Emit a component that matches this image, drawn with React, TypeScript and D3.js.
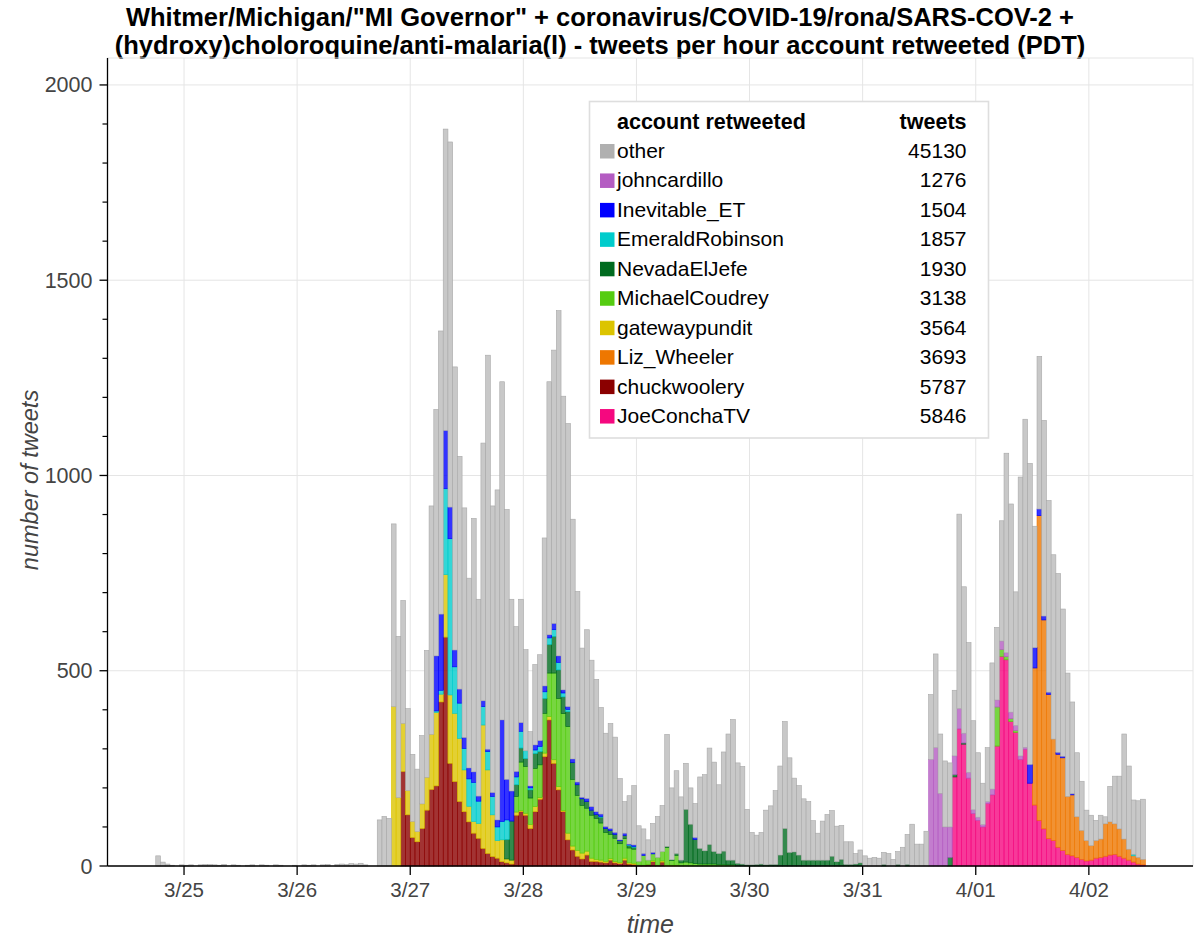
import React, { useMemo } from 'react';
import * as d3 from 'd3';

// ---------------- data (hours are counted from 3/25 00:00 PDT) ----------------
const FIRST_HOUR = -6; // first bar: 3/24 18:00

const totalTweetsPerHour = [
  26, 10, 5, 2, 0, 3,
  2, 3, 0, 3, 4, 4, 3, 2, 4, 0, 3, 2,
  0, 2, 3, 0, 3, 2, 0, 3, 2, 0, 0, 2,
  0, 3, 2, 3, 0, 3, 4, 0, 4, 5, 4, 6,
  5, 7, 3, 0, 0, 118, 127, 122,
  876, 588, 680, 403, 286, 248, 334, 552, 922, 1169, 1370, 1887,
  1854, 1278, 1049, 917, 737, 890, 683, 1083, 1308, 922, 963, 1240,
  913, 683, 613, 683, 554, 344, 516, 541, 840, 1240, 1321, 1422,
  1203, 1133, 888, 703, 558, 605, 527, 478, 406, 340, 365, 330,
  224, 165, 180, 206, 103, 95, 67, 109, 127, 155, 337, 200,
  244, 177, 263, 200, 160, 228, 234, 302, 266, 208, 292, 338,
  375, 264, 255, 145, 86, 79, 86, 143, 154, 193, 256, 370,
  277, 225, 206, 172, 165, 116, 84, 115, 132, 142, 102, 104,
  62, 62, 32, 41, 26, 20, 22, 20, 35, 32, 17, 37,
  48, 81, 107, 56, 56, 89, 439, 543, 338, 269, 264, 450,
  901, 715, 572, 372, 290, 212, 303, 520, 611, 884, 1057, 927,
  702, 996, 1144, 1031, 870, 1305, 1141, 936, 797, 749, 658, 494,
  420, 290, 217, 143, 130, 117, 130, 126, 204, 230, 230, 338,
  256, 169, 167, 171,
];

const joeConchaTVStart = 163;
const joeConchaTV = [
  228, 351, 312, 225, 134, 117, 100, 160, 182, 307, 537, 528, 370, 342, 273,
  299, 212, 156, 117, 95, 70, 65, 48, 40, 30, 26, 22, 17, 13, 15,
  20, 22, 25, 28, 30, 25, 20, 15, 10, 5, 3,
];

const chuckwooleryStart = 46;
const chuckwoolery = [
  242, 131, 73, 62, 96, 143, 196, 205, 420, 586, 263, 216, 165, 139, 113,
  84, 71, 45, 32, 24, 20, 11, 8, 5, 130, 139, 130, 96, 139, 171,
  280, 374, 263, 195, 139, 67, 41, 25, 18, 28, 12, 12, 10, 8, 15,
  8, 6, 15, 5, 4, 2, 2, 3, 11, 2, 10,
];

const lizWheelerStart = 180;
const lizWheeler = [
  351, 780, 535, 369, 260, 238, 237, 148, 156, 104, 74, 52, 37, 45, 47,
  83, 85, 78, 70, 49, 28, 16, 17, 14,
];

const gatewaypunditStart = 44;
const gatewaypundit = [
  408, 175, 123, 62, 41, 26, 63, 84, 141, 188, 20, 160, 175, 175, 162,
  107, 40, 30, 38, 316, 214, 107, 45, 56, 10, 10, 8, 3, 5, 10,
  13, 4, 9, 9, 9, 8, 3, 17, 10, 15, 15, 10, 8, 5, 5,
  4, 4, 3, 3, 5, 3, 3, 0, 0, 0, 2, 0, 3, 2, 2, 2,
];

const michaelCoudreyStart = 70;
const michaelCoudrey = [
  40, 124, 120, 68, 98, 84, 102, 111, 222, 226, 248, 273, 171, 141, 122,
  110, 110, 105, 95, 74, 62, 60, 48, 50, 38, 36, 10, 25, 12, 18,
  20, 24, 45, 12, 25, 8, 10, 8, 6, 5, 5, 5, 5, 4, 4, 3, 3,
];
const michaelCoudreyAprilStart = 172;
const michaelCoudreyApril = [100, 17, 8, 7, 5];

const nevadaElJefeStart = 68;
const nevadaElJefe = [
  50, 100, 30, 36, 20, 21, 38, 34, 38, 73, 94, 73, 43, 38, 43,
  27, 17, 17, 13, 10, 15, 10, 10, 10, 8, 8, 6, 5, 0, 0,
  0, 0, 0, 0, 3, 2, 5, 7, 135, 99, 62, 40, 34, 50, 32,
  28, 34, 12, 12, 7, 5, 3, 3, 4, 5, 3, 4, 4, 28, 96,
  35, 36, 28, 15, 15, 15, 15, 15, 15, 25, 11, 17, 4, 4, 5,
  8, 0, 0, 0, 0, 4, 0, 0, 4, 0, 4, 0, 0, 0, 0,
  0, 0, 0, 0, 22, 6, 0, 3,
];

const emeraldRobinsonStart = 53;
const emeraldRobinson = [
  4, 10, 220, 400, 119, 90, 55, 70, 100, 57, 47, 47, 47, 35, 47,
  50, 0, 20, 43, 20, 5, 9, 13, 17, 17, 17, 19, 10, 6, 0,
  0, 0, 0, 0, 0, 2, 0, 0, 0, 0, 0, 2, 2,
];
const emeraldRobinsonAprilStart = 201;
const emeraldRobinsonApril = [4];

const inevitableEtStart = 53;
const inevitableEt = [
  141, 195, 149, 81, 43, 36, 28, 28, 27, 13, 15, 6, 10, 18, 260,
  104, 77, 14, 22, 0, 5, 13, 15, 15, 8, 16, 17, 8, 7, 9,
  7, 4, 8, 9, 7, 6, 5, 5, 5, 2, 6, 2, 4, 0, 5,
  0, 4, 0, 0, 0, 0, 0, 0, 0, 0, 5,
];
const inevitableEtAprilStart = 179;
const inevitableEtApril = [48, 52, 17, 10, 6, 0, 5, 4, 0, 3];

const johncardilloStart = 158;
const johncardillo = [
  273, 303, 186, 100, 78, 48, 52, 25, 15, 10, 8, 6, 5, 15, 18,
  22, 10, 17, 13, 9, 5,
];

// legend (top to bottom)
const legendAccounts = [
  'other', 'johncardillo', 'Inevitable_ET', 'EmeraldRobinson', 'NevadaElJefe',
  'MichaelCoudrey', 'gatewaypundit', 'Liz_Wheeler', 'chuckwoolery', 'JoeConchaTV',
];
const legendTweetCounts = [45130, 1276, 1504, 1857, 1930, 3138, 3564, 3693, 5787, 5846];
const accountColors = [
  '#b0b0b0', '#b45cc2', '#0000ff', '#00cccc', '#006b1f',
  '#55cc11', '#dcc400', '#ee7700', '#8b0000', '#f5087f',
];

const dayTickLabels = ['3/25', '3/26', '3/27', '3/28', '3/29', '3/30', '3/31', '4/01', '4/02'];
const yTickValues = [0, 500, 1000, 1500, 2000];

const titleLines = [
  'Whitmer/Michigan/"MI Governor" + coronavirus/COVID-19/rona/SARS-COV-2 +',
  '(hydroxy)choloroquine/anti-malaria(l) - tweets per hour account retweeted (PDT)',
];

// ---------------- build table ----------------
const segments: Record<string, [number, number[]][]> = {
  JoeConchaTV: [[joeConchaTVStart, joeConchaTV]],
  chuckwoolery: [[chuckwooleryStart, chuckwoolery]],
  Liz_Wheeler: [[lizWheelerStart, lizWheeler]],
  gatewaypundit: [[gatewaypunditStart, gatewaypundit]],
  MichaelCoudrey: [[michaelCoudreyStart, michaelCoudrey], [michaelCoudreyAprilStart, michaelCoudreyApril]],
  NevadaElJefe: [[nevadaElJefeStart, nevadaElJefe]],
  EmeraldRobinson: [[emeraldRobinsonStart, emeraldRobinson], [emeraldRobinsonAprilStart, emeraldRobinsonApril]],
  Inevitable_ET: [[inevitableEtStart, inevitableEt], [inevitableEtAprilStart, inevitableEtApril]],
  johncardillo: [[johncardilloStart, johncardillo]],
};

const stackKeys = legendAccounts.slice().reverse(); // bottom -> top

function valueAt(name: string, hour: number): number {
  let v = 0;
  for (const [start, arr] of segments[name] || []) {
    const i = hour - start;
    if (i >= 0 && i < arr.length) v += arr[i];
  }
  return v;
}

type Row = { hour: number; [k: string]: number };

function buildRows(): Row[] {
  return totalTweetsPerHour.map((total, i) => {
    const hour = FIRST_HOUR + i;
    const row: Row = { hour };
    let sum = 0;
    for (const k of stackKeys) {
      if (k === 'other') continue;
      row[k] = valueAt(k, hour);
      sum += row[k];
    }
    row.other = Math.max(0, total - sum);
    return row;
  });
}

// ---------------- layout ----------------
const W = 1200;
const H = 946;
const PLOT_L = 107.5;
const PLOT_R = 1193;
const PLOT_T = 58;
const PLOT_B = 866;
const FONT = '"Liberation Sans", Arial, Helvetica, sans-serif';

export default function App() {
  const rows = useMemo(buildRows, []);
  const x = d3.scaleLinear().domain([-16.24, 214.1]).range([PLOT_L, PLOT_R]);
  const y = d3.scaleLinear().domain([0, 2069]).range([PLOT_B, PLOT_T]);
  const stacked = d3.stack<Row>().keys(stackKeys)(rows);
  const colorOf = (k: string) => accountColors[legendAccounts.indexOf(k)];
  const dayTicks = dayTickLabels.map((_, i) => i * 24);
  const minorY = d3.range(100, 2001, 100).filter((v) => v % 500 !== 0);

  const legendX = 589.5;
  const legendY = 101.5;
  const rowBase = 158;
  const rowStep = 29.45;

  return (
    <svg width={W} height={H} style={{ position: 'absolute', left: 0, top: 0, display: 'block', background: '#fff' }} fontFamily={FONT}>
      {/* title */}
      {titleLines.map((t, i) => (
        <text key={i} x={600} y={26 + i * 28} textAnchor="middle" fontSize={25.5} fontWeight="bold" fill="#000">{t}</text>
      ))}

      {/* frame + grid */}
      <rect x={PLOT_L} y={PLOT_T} width={PLOT_R - PLOT_L} height={PLOT_B - PLOT_T} fill="none" stroke="#e5e5e5" strokeWidth={1} />
      {yTickValues.filter((v) => v > 0).map((v) => (
        <line key={'gy' + v} x1={PLOT_L} x2={PLOT_R} y1={y(v)} y2={y(v)} stroke="#e5e5e5" strokeWidth={1} />
      ))}
      {dayTicks.map((h) => (
        <line key={'gx' + h} x1={x(h)} x2={x(h)} y1={PLOT_T} y2={PLOT_B} stroke="#e5e5e5" strokeWidth={1} />
      ))}

      {/* bars */}
      {stacked.map((layer) => {
        const k = layer.key;
        const c = colorOf(k);
        const isOther = k === 'other';
        return (
          <g key={k}>
            {layer.map((d, i) => {
              const h0 = d[0];
              const h1 = d[1];
              if (h1 - h0 <= 0) return null;
              const hr = rows[i].hour;
              const x0 = x(hr);
              const x1 = x(hr + 1);
              return (
                <rect
                  key={i}
                  x={x0}
                  y={y(h1)}
                  width={x1 - x0}
                  height={y(h0) - y(h1)}
                  fill={isOther ? '#c8c8c8' : c}
                  fillOpacity={isOther ? 1 : 0.8}
                  stroke={isOther ? '#a8a8a8' : c}
                  strokeWidth={0.6}
                />
              );
            })}
          </g>
        );
      })}

      {/* y axis */}
      <line x1={PLOT_L} x2={PLOT_L} y1={PLOT_T} y2={PLOT_B} stroke="#000" strokeWidth={1.3} />
      {yTickValues.map((v) => (
        <g key={'yt' + v}>
          <line x1={PLOT_L - 8} x2={PLOT_L} y1={y(v)} y2={y(v)} stroke="#000" strokeWidth={1.3} />
          <text x={PLOT_L - 15} y={y(v)} dy="0.35em" textAnchor="end" fontSize={21.5} fill="#444">{v}</text>
        </g>
      ))}
      {minorY.map((v) => (
        <line key={'ym' + v} x1={PLOT_L - 5} x2={PLOT_L} y1={y(v)} y2={y(v)} stroke="#000" strokeWidth={1.2} />
      ))}
      <text transform={`translate(38,480) rotate(-90)`} textAnchor="middle" fontSize={23.5} fontStyle="italic" fill="#444">number of tweets</text>

      {/* x axis */}
      <line x1={PLOT_L} x2={PLOT_R} y1={PLOT_B} y2={PLOT_B} stroke="#000" strokeWidth={1.3} />
      {dayTicks.map((h, i) => (
        <g key={'xt' + h}>
          <line x1={x(h)} x2={x(h)} y1={PLOT_B} y2={PLOT_B + 9} stroke="#000" strokeWidth={1.3} />
          <text x={x(h)} y={897} textAnchor="middle" fontSize={20.5} fill="#444">{dayTickLabels[i]}</text>
        </g>
      ))}
      <text x={(PLOT_L + PLOT_R) / 2} y={933} textAnchor="middle" fontSize={25} fontStyle="italic" fill="#444">time</text>

      {/* legend */}
      <rect x={legendX} y={legendY} width={399} height={336.5} fill="#fff" stroke="#dedede" strokeWidth={1.6} />
      <text x={617} y={129} fontSize={21.5} fontWeight="bold" fill="#000">account retweeted</text>
      <text x={966.5} y={129} fontSize={21.5} fontWeight="bold" fill="#000" textAnchor="end">tweets</text>
      {legendAccounts.map((name, i) => {
        const by = rowBase + i * rowStep;
        return (
          <g key={name}>
            <rect x={600} y={by - 14} width={14.5} height={14.5} fill={accountColors[i]} />
            <text x={617} y={by} fontSize={21} fill="#000">{name}</text>
            <text x={966.5} y={by} fontSize={21} fill="#000" textAnchor="end">{legendTweetCounts[i]}</text>
          </g>
        );
      })}
    </svg>
  );
}
